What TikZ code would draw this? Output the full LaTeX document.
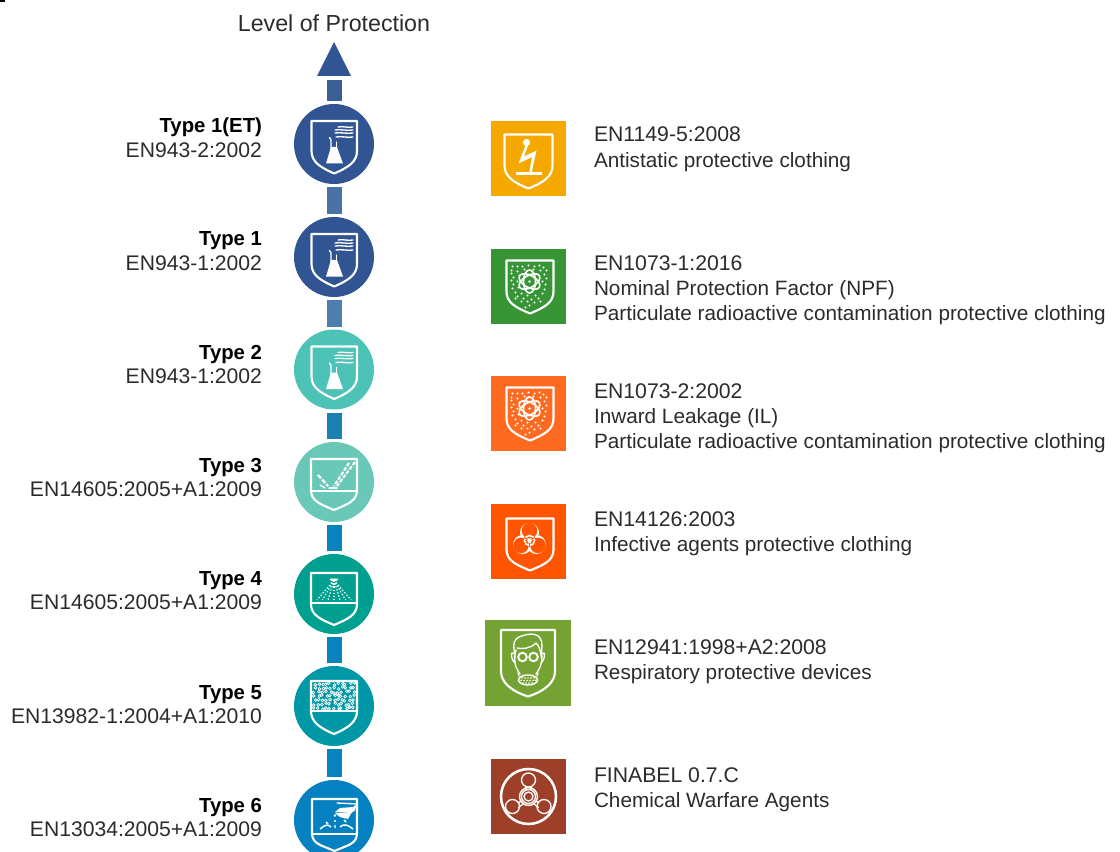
\documentclass[tikz,border=0pt]{standalone}
\usepackage{fontspec}
\setmainfont{Liberation Sans}
\definecolor{cA}{HTML}{315492}
\definecolor{cB}{HTML}{4DC2B6}
\definecolor{cC}{HTML}{69C8B8}
\definecolor{cD}{HTML}{00A091}
\definecolor{cE}{HTML}{0098A6}
\definecolor{cF}{HTML}{0581C1}
\definecolor{bA}{HTML}{3B5F94}
\definecolor{bB}{HTML}{4A72A6}
\definecolor{bC}{HTML}{4E7EAE}
\definecolor{bD}{HTML}{1A80B2}
\definecolor{bE}{HTML}{0883BE}
\definecolor{sA}{HTML}{F5A800}
\definecolor{sB}{HTML}{379535}
\definecolor{sC}{HTML}{FF6A21}
\definecolor{sD}{HTML}{FF5500}
\definecolor{sE}{HTML}{74A334}
\definecolor{sF}{HTML}{9E4029}
\definecolor{txt}{HTML}{2B2B2B}
\newcommand{\shieldline}[5]{% left right top bottom straight-end
  \draw[wl] (#1,#3) -- (#2,#3) -- (#2,#5) .. controls (#2,{#5+11}) and ({#2-9},{#4-6}) .. ({(#1+#2)/2},#4)
    .. controls ({#1+9},{#4-6}) and (#1,{#5+11}) .. (#1,#5) -- cycle;}
\newcommand{\flaskicon}{%
  \shieldline{-22.5}{23}{-23}{29.5}{7}
  \fill[white] (-3,3) -- (3,3) -- (9,19.5) -- (-8,19.5) -- cycle;
  \draw[wt] (-4.5,-6.5) -- (-3,-4) -- (-3,5);
  \draw[wt] (2.5,-2) -- (2.5,5);
  \draw[wt] (4,-17) .. controls (9,-18) and (14,-16) .. (19,-17);
  \draw[wt] (1,-14) .. controls (7,-15) and (13,-13) .. (19,-14);
  \draw[wt] (1,-11) .. controls (7,-12) and (13,-10) .. (19,-11);
  \draw[wt] (2,-7) .. controls (8,-8) and (14,-6) .. (19,-7);}
\newcommand{\atomdots}{%
  \foreach \p/\q in {-16/-20,-11/-20,-6/-20,0/-21,6/-20,11/-21,15/-19,-17/-16,-17/-13,-15/-9,-17/-6,-15/-2,-16/2,-13/6,-11/10,-7/7,-5/12,-1/9,3/13,7/9,10/12,14/7,16/3,17/-2,14/-5,18/-8,16/-12,18/-16,12/-16,-11/-15,-9/-11,-11/-5,-10/1,-4/-17,5/-17,-1/15,-7/15,6/16,1/19,-3/21,12/15,-13/12}
    {\fill[white] (\p,\q) circle (1.1);}
  \begin{scope}[shift={(1,-5)}]
    \foreach \r in {30,90,150}{\draw[white,line width=1.2pt,rotate=\r] (0,0) ellipse (11.5 and 6);}
    \fill[white] (0,0) circle (1.4);
  \end{scope}}
\tikzset{
  x=0.75pt,y=-0.75pt,
  wl/.style={draw=white,line width=1.6pt,line join=round},
  wt/.style={draw=white,line width=1pt,line cap=round},
  disc/.style={circle,minimum size=60pt,inner sep=0pt,outer sep=0pt},
  tile/.style={minimum size=56.25pt,inner sep=0pt,outer sep=0pt},
  bar/.style={line width=11.25pt,shorten >=2.25pt,shorten <=2.25pt},
  typelabel/.style={anchor=north east,align=right,inner sep=0pt,outer sep=0pt,text=txt,font=\fontsize{15.85}{18.7}\selectfont},
  stdlabel/.style={anchor=north west,align=left,inner sep=0pt,outer sep=0pt,text=txt,font=\fontsize{15.55}{19.1}\selectfont},
}
\newcommand{\fl}{\rule{0pt}{14.25pt}}
\newcommand{\tyname}[1]{{\fontsize{15.25}{18.7}\selectfont\bfseries\color{black}#1}}
\newcommand{\cd}[1]{{\fontsize{15.9}{19.1}\selectfont #1}}
\begin{document}
\begin{tikzpicture}
\useasboundingbox (0,0) rectangle (1120,852);
\fill[black] (0,0) rectangle (5,2.5);
\node[anchor=base,inner sep=0pt,text=txt,font=\fontsize{17.4}{20}\selectfont] (title) at (334,32) {Level of Protection};
% discs
\node[disc,fill=cA] (c0) at (334,144) {};
\node[disc,fill=cA] (c1) at (334,257) {};
\node[disc,fill=cB] (c2) at (334,369.5) {};
\node[disc,fill=cC] (c3) at (334,482) {};
\node[disc,fill=cD] (c4) at (334,594) {};
\node[disc,fill=cE] (c5) at (334,706) {};
\node[disc,fill=cF] (c6) at (334,820) {};
% arrow
\coordinate (tip) at (334,42);
\coordinate (arrowbase) at (334,76);
\fill[cA] (tip) -- (317,76) -- (351,76) -- cycle;
\draw[bar,bA,shorten >=3pt] (c0) -- (arrowbase);
\draw[bar,bB] (c0) -- (c1);
\draw[bar,bC] (c1) -- (c2);
\draw[bar,bD] (c2) -- (c3);
\draw[bar,bE] (c3) -- (c4);
\draw[bar,bE] (c4) -- (c5);
\draw[bar,bE] (c5) -- (c6);
% disc icons
\begin{scope}[shift={(c0)}]\flaskicon\end{scope}
\begin{scope}[shift={(c1)}]\flaskicon\end{scope}
\begin{scope}[shift={(c2)}]\flaskicon\end{scope}
\begin{scope}[shift={(c3)}]
  \shieldline{-23}{23}{-23}{28}{8}
  \draw[wl] (-22,9) -- (22,9);
  \draw[white,line width=1.6pt,dash pattern=on 2.8pt off 1.2pt] (21,-20) -- (3,4);
  \draw[white,line width=1.6pt,dash pattern=on 2.8pt off 1.2pt] (15,-19) -- (0,4);
  \draw[white,line width=1.7pt,dash pattern=on 3.5pt off 1.2pt] (-16,-7) -- (-6,4);
  \draw[wt] (-14,3) -- (-9,6); \draw[wt] (-5,6) -- (3,6);
\end{scope}
\begin{scope}[shift={(c4)}]
  \shieldline{-23}{23}{-21}{31}{10}
  \draw[wl] (-22,9) -- (22,9);
  \fill[white] (-4.5,-15.5) arc (180:0:4.5 and 3) -- cycle;
  \foreach \d in {-17,-11.5,-6,0,6,11.5,17}{\draw[white,line width=0.8pt,dash pattern=on 1.1pt off 1.3pt] (0,-14) -- (\d,6);}
\end{scope}
\begin{scope}[shift={(c5)}]
  \shieldline{-23}{23}{-25}{28}{5}
  \draw[wl] (-22,5) -- (22,5);
  \pgfmathsetseed{77}
  \foreach \cx in {-19.5,-15.6,...,20}{
    \foreach \cy in {-22,-18,...,2}{
      \pgfmathsetmacro{\xp}{\cx+1.4*rand}
      \pgfmathsetmacro{\yp}{\cy+1.2*rand}
      \draw[white,line width=0.55pt] (\xp,\yp) circle (1.4);}}
\end{scope}
\begin{scope}[shift={(c6)}]
  \shieldline{-22}{23}{-21}{31}{13}
  \draw[wl] (-22,14) -- (23,14);
  \draw[wt] (3,-17) -- (23,-16);
  \fill[white] (1,-8) -- (19,-8) .. controls (22,-10) and (22,-13) .. (22,-15) -- (19,-13) -- (6,-12) -- cycle;
  \fill[white] (18,-8) -- (14,-1) -- (6,-3) -- (1,-7) -- cycle;
  \fill[white] (1,-4.5) circle (1.3) (1,1) circle (1.1);
  \draw[white,line width=1.1pt] (-3,7) .. controls (-7,3) and (-10,6) .. (-14,9);
  \draw[white,line width=1.1pt] (6,7) .. controls (10,3) and (14,5) .. (19,9);
  \draw[white,line width=1.1pt] (-8,2) -- (-6,4) (10,0) -- (12,2) (1,5) -- (1,8);
\end{scope}
% tiles
\node[tile,fill=sA] (s0) at (528.5,158.5) {};
\node[tile,fill=sB] (s1) at (528.5,286.5) {};
\node[tile,fill=sC] (s2) at (528.5,413.5) {};
\node[tile,fill=sD] (s3) at (528.5,541.5) {};
\node[tile,fill=sE,minimum size=64.5pt] (s4) at (528,663) {};
\node[tile,fill=sF] (s5) at (528.5,796.5) {};
\begin{scope}[shift={(s0)}]
  \shieldline{-24}{24}{-24}{30}{7}
  \fill[white] (-2,-16) circle (3.6);
  \fill[white] (-3,-13) -- (-0.5,-13) -- (-4.5,-2) -- (8,-8) -- (3.2,14) -- (0.8,14) -- (3.5,-1.5) -- (-10,5) -- cycle;
  \draw[white,line width=1.6pt] (-13,15) -- (13,15);
\end{scope}
\begin{scope}[shift={(s1)}]
  \shieldline{-22}{25}{-26}{27}{5}
  \atomdots
\end{scope}
\begin{scope}[shift={(s2)}]
  \shieldline{-22}{25}{-26}{27}{5}
  \atomdots
\end{scope}
\begin{scope}[shift={(s3)}]
  \shieldline{-22}{25}{-23}{29}{8}
  \begin{scope}[shift={(1,-1)}]
    \foreach \r in {-90,30,150}{
      \fill[white] (\r:8) circle (9.5);
    }
    \foreach \r in {-90,30,150}{
      \fill[sD] (\r:9.8) circle (7.8);
    }
    \draw[white,line width=1.2pt] (0,0) circle (5);
    \foreach \r in {-90,30,150}{
      \draw[sD,line width=0.9pt] (\r+180:6) -- (\r+180:2);
    }
    \fill[white] (0,0) circle (2);
  \end{scope}
\end{scope}
\begin{scope}[shift={(s4)}]
  \shieldline{-27}{27}{-33}{33.5}{8}
  \draw[wt] (-13,-9) .. controls (-16,-20) and (-13,-24) .. (-9,-26) .. controls (-2,-29) and (8,-31) .. (12,-25) .. controls (15,-21) and (14,-14) .. (13,-8) .. controls (12,-15) and (10,-18) .. (8,-20) .. controls (2,-14) and (-6,-14) .. (-11,-15);
  \draw[wt] (-12,-13) .. controls (-14,-6) and (-14,2) .. (-10,8) -- (-8,11);
  \draw[wt] (13,-13) .. controls (15,-6) and (14,2) .. (10,8) -- (8,11);
  \draw[wt] (-14,-10) .. controls (-18,-12) and (-17,-3) .. (-13,0);
  \draw[wt] (14,-10) .. controls (18,-12) and (17,-3) .. (13,0);
  \draw[white,line width=1.4pt] (-5.5,-6) circle (4.3) (5.5,-6) circle (4.3);
  \draw[wt] (-10,10) -- (-9,13) (10,10) -- (9,13);
  \draw[white,line width=1.1pt] (0,17) ellipse (9.5 and 5);
  \foreach \a/\b in {-6/15,-3/15,0/15,3/15,6/15,-7/17.5,-4/17.5,-1/17.5,2/17.5,5/17.5,7.5/17.5,-5/20,-2/20,1/20,4/20}
    {\fill[white] (\a,\b) circle (0.8);}
\end{scope}
\begin{scope}[shift={(s5)}]
  \draw[white,line width=1.9pt] (0,0) circle (27.5);
  \foreach \x/\y/\r in {0/-16.5/-90,-16/10/150,15.5/10/30}{
    \draw[wt,fill=sF] (\x,\y) circle (7);
  }
  \draw[wt] (-2.5,-10) -- (-2.5,-7) (2.5,-10) -- (2.5,-7);
  \draw[wt] (-10,6) -- (-7,4.5) (-10,11) -- (-6,8);
  \draw[wt] (10,6) -- (7,4.5) (10,11) -- (6,8);
  \draw[wt] (0,0) circle (4.5) (0,0) circle (7) (0,0) circle (9);
\end{scope}
% labels
\node[typelabel] (t0) at (262,114) {\fl\tyname{Type 1(ET)}\\EN943-2:2002};
\node[typelabel] (t1) at (262,227) {\fl\tyname{Type 1}\\EN943-1:2002};
\node[typelabel] (t2) at (262,340) {\fl\tyname{Type 2}\\EN943-1:2002};
\node[typelabel] (t3) at (262,453) {\fl\tyname{Type 3}\\EN14605:2005+A1:2009};
\node[typelabel] (t4) at (262,566) {\fl\tyname{Type 4}\\EN14605:2005+A1:2009};
\node[typelabel] (t5) at (262,680) {\fl\tyname{Type 5}\\EN13982-1:2004+A1:2010};
\node[typelabel] (t6) at (262,793) {\fl\tyname{Type 6}\\EN13034:2005+A1:2009};
\node[stdlabel] (d0) at (594,123) {\fl\cd{EN1149-5:2008}\\Antistatic protective clothing};
\node[stdlabel] (d1) at (594,251) {\fl\cd{EN1073-1:2016}\\Nominal Protection Factor (NPF)\\Particulate radioactive contamination protective clothing};
\node[stdlabel] (d2) at (594,379) {\fl\cd{EN1073-2:2002}\\Inward Leakage (IL)\\Particulate radioactive contamination protective clothing};
\node[stdlabel] (d3) at (594,507) {\fl\cd{EN14126:2003}\\Infective agents protective clothing};
\node[stdlabel] (d4) at (594,635) {\fl\cd{EN12941:1998+A2:2008}\\Respiratory protective devices};
\node[stdlabel] (d5) at (594,763) {\fl\cd{FINABEL 0.7.C}\\Chemical Warfare Agents};
\end{tikzpicture}
\end{document}
